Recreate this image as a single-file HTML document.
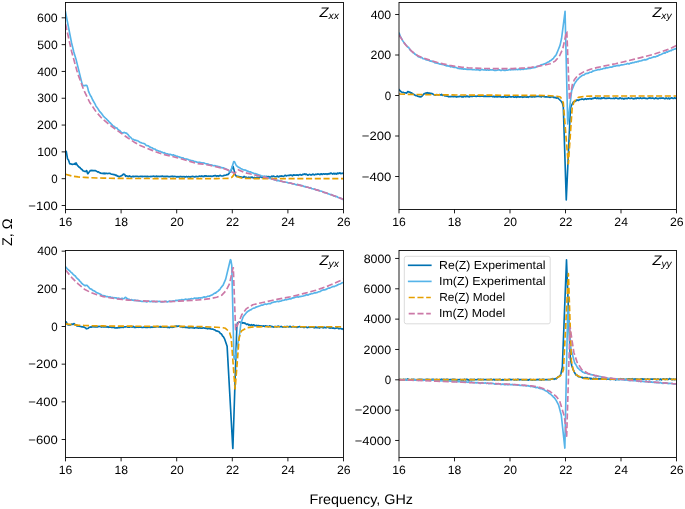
<!DOCTYPE html><html><head><meta charset="utf-8"><title>Z plots</title><style>html,body{margin:0;padding:0;background:#fff;overflow:hidden}svg{display:block;will-change:transform}</style></head><body>
<svg text-rendering="geometricPrecision" width="685" height="509" viewBox="0 0 685 509" font-family="&quot;Liberation Sans&quot;, sans-serif">
<rect width="685" height="509" fill="#fff"/>
<clipPath id="c1"><rect x="65.5" y="2.5" width="278.0" height="207.0"/></clipPath>
<g clip-path="url(#c1)" fill="none" stroke-width="1.65" stroke-linejoin="round">
<path d="M65.5 153.18 L65.92 151.24 L66.27 151.5 L67.49 158.68 L68.12 159.64 L68.47 159.9 L69.5 163.06 L69.85 163.78 L70.2 163.94 L70.9 163.87 L71.25 164.13 L71.6 164.15 L71.95 164.01 L72.3 164.43 L73.35 164.2 L74.05 164.23 L74.4 163.73 L74.75 163.53 L75.45 164.39 L75.98 162.94 L76.33 163.24 L76.99 164.72 L77.69 165.68 L79.09 167.17 L79.44 167.25 L80.14 167.75 L80.49 168.35 L80.84 168.43 L81.19 169 L82.24 169.71 L82.94 170.77 L85.04 171.58 L85.39 171.4 L86.09 171.39 L86.44 170.62 L86.79 170.75 L87.52 173.34 L87.75 173.76 L88.1 173.73 L88.8 172.42 L90.16 170.66 L90.51 170.55 L90.86 170.73 L91.91 170.37 L92.61 170.69 L93.66 170.54 L94.01 170.72 L94.36 170.46 L94.71 170.54 L95.06 170.46 L95.76 170.83 L96.11 170.83 L96.46 171.29 L96.81 171.35 L97.86 172.09 L98.56 171.76 L99.61 172.79 L99.96 172.73 L100.31 172.88 L100.66 173.24 L101.36 173.39 L101.71 173.21 L102.06 173.32 L102.41 173.21 L103.11 173.64 L103.46 173.59 L103.81 173.13 L104.16 172.99 L104.51 173.6 L104.86 173.82 L105.56 173.25 L106.26 173.39 L106.61 173.25 L106.96 173.45 L107.66 173.56 L109.06 173.24 L109.41 173.41 L110.11 173.39 L111.16 174.14 L112.56 174.26 L112.91 174.45 L113.26 174.4 L113.61 174.58 L114.31 174.72 L114.66 174.6 L115.01 174.78 L115.36 175.32 L116.06 175.61 L116.41 175.17 L117.46 176.16 L118.16 176.19 L119.21 176.89 L119.91 176.52 L120.26 176.12 L121.66 175.69 L122.01 175.27 L122.36 175.16 L123.41 174.09 L124.81 174.63 L125.51 176.05 L125.86 176.33 L126.21 175.89 L126.91 175.85 L127.26 176.05 L127.61 176.02 L127.96 176.47 L128.31 176.62 L129.36 175.77 L129.71 176.35 L130.06 176.38 L130.41 176.72 L130.76 176.4 L131.46 176.89 L131.81 176.89 L132.51 176.29 L132.86 176.45 L133.21 176.21 L133.56 176.6 L133.91 176.47 L134.26 176.62 L134.61 176.42 L135.31 176.49 L135.66 176.33 L136.01 176.41 L137.06 176.3 L138.46 176.66 L139.16 176.63 L139.51 176.42 L140.21 176.22 L140.56 176.4 L140.91 176.31 L141.61 176.37 L141.96 176.6 L142.31 176.65 L142.66 176.3 L144.06 176.54 L144.41 176.4 L145.46 176.41 L145.81 176.61 L146.16 176.35 L146.51 176.65 L147.56 176.35 L147.91 176.38 L148.26 176.65 L148.61 176.51 L149.66 176.46 L150.01 176.57 L151.06 176.34 L151.76 176.56 L152.11 176.42 L152.46 176.44 L152.81 176.2 L153.86 176.13 L154.21 176.29 L154.56 176.27 L154.91 176.6 L155.96 176.28 L156.31 176.04 L156.66 176.59 L157.01 176.43 L157.36 176.69 L157.71 176.35 L158.06 176.44 L158.76 176.24 L159.46 176.57 L160.51 176.3 L161.56 176.4 L161.91 176.12 L162.61 176.03 L162.96 176.39 L163.31 176.44 L163.66 176.69 L164.36 176.58 L164.71 176.35 L165.76 176.75 L166.46 176.28 L167.86 176.35 L168.21 176.68 L169.61 176.68 L169.96 176.86 L171.01 176.31 L171.36 176.4 L172.06 176.39 L172.41 176.17 L172.76 176.6 L173.46 176.77 L173.81 176.43 L175.91 176.5 L176.61 176.99 L177.31 177.02 L177.66 176.65 L178.01 176.75 L178.36 176.68 L179.06 177.1 L179.41 176.77 L179.76 176.74 L180.11 176.33 L180.46 176.76 L180.81 176.53 L181.51 176.55 L181.86 176.84 L182.21 176.92 L182.91 176.59 L183.61 176.82 L184.31 176.63 L184.66 176.69 L185.01 177.07 L185.36 176.89 L185.71 176.94 L186.06 176.64 L186.41 176.77 L186.76 176.57 L187.11 176.82 L187.81 176.83 L188.51 176.56 L189.21 176.94 L189.91 176.63 L190.26 176.62 L190.61 177.11 L191.66 176.45 L192.71 176.25 L193.06 176.6 L193.76 176.66 L194.11 176.52 L194.46 176.84 L194.81 176.75 L195.16 176.87 L195.51 176.5 L196.21 176.29 L196.56 176.59 L196.91 176.69 L197.96 176.52 L198.31 176.61 L199.36 176.06 L200.76 176.35 L201.11 176.1 L201.46 176.13 L201.81 175.94 L202.16 176.43 L202.51 176.26 L202.86 176.41 L203.21 176.24 L203.56 176.53 L203.91 176.61 L204.61 175.9 L205.31 175.78 L205.66 176.07 L206.01 175.77 L206.71 176.26 L207.41 176.29 L207.76 176.17 L208.11 176.25 L208.81 176.05 L210.21 176.2 L210.56 176.05 L210.91 176.14 L211.26 176.04 L211.61 176.34 L211.96 176.22 L212.31 176.4 L212.66 176.2 L213.01 176.23 L213.36 175.86 L214.41 175.85 L215.11 175.48 L215.46 175.53 L216.51 176.33 L217.56 175.77 L217.91 175.83 L218.26 176.19 L218.61 176.3 L219.66 175.54 L220.36 175.39 L220.71 175.47 L221.06 175.84 L222.81 175.97 L224.21 175.35 L225.61 175.27 L226.31 175.01 L226.66 174.62 L227.71 174.75 L228.41 174.15 L229.46 172.71 L230.51 171.75 L231.21 170.5 L232.4 166.85 L232.75 166.36 L233.1 166.57 L234.08 170.11 L234.81 174.45 L235.04 174.33 L235.39 175.1 L236.09 176 L236.44 176.13 L236.79 176.47 L237.49 176.21 L237.84 176.49 L238.54 176.58 L238.89 176.36 L239.94 177.11 L240.29 176.86 L240.99 177.01 L241.34 176.97 L242.39 177.52 L243.44 177.12 L244.14 176.44 L245.54 177.27 L246.24 177.2 L246.94 177.83 L247.29 177.91 L247.64 177.65 L247.99 177.63 L248.34 177.35 L248.69 177.48 L249.04 177.33 L249.39 177.66 L250.44 177.35 L251.14 177.48 L251.49 177.38 L251.84 177.09 L252.19 177.05 L253.24 177.95 L254.64 177.42 L255.69 177.93 L256.74 177.39 L257.09 177.73 L257.44 177.74 L258.14 177.25 L258.84 177.87 L259.19 177.93 L260.24 176.81 L260.59 176.6 L261.64 177.45 L262.34 177.48 L263.74 177.09 L264.44 176.45 L264.79 176.57 L265.84 176.47 L266.19 176.69 L266.89 176.44 L267.24 176.54 L267.59 176.92 L267.94 177.01 L268.64 176.48 L268.99 176.49 L269.34 176.98 L269.69 177.14 L271.09 176.81 L271.44 176.3 L271.79 176.2 L272.14 176.55 L272.84 176.59 L273.19 176.04 L274.59 176.6 L275.99 176.78 L276.34 176.66 L277.04 176.03 L277.74 176.18 L278.09 176.7 L278.44 176.89 L278.79 176.9 L279.14 176.43 L279.49 176.39 L279.84 176.13 L280.54 175.98 L281.24 176.09 L281.59 175.88 L282.64 176.28 L283.69 176.32 L284.39 175.86 L284.74 175.41 L285.09 175.26 L285.44 175.37 L286.14 176.01 L286.49 175.98 L286.84 175.64 L287.89 175.55 L288.59 175.34 L288.94 175.55 L289.64 175.41 L289.99 174.9 L290.34 175.22 L291.39 175.04 L292.09 175.69 L292.44 175.81 L293.14 175.13 L293.84 174.91 L295.59 175.19 L295.94 174.99 L296.29 175.14 L296.64 174.85 L296.99 175.05 L297.34 174.77 L297.69 175.12 L298.04 175.06 L298.39 175.43 L298.74 175.07 L299.44 174.84 L299.79 174.54 L300.49 174.46 L301.19 175.22 L301.54 175.01 L301.89 175.01 L302.94 174.23 L303.99 174.51 L304.34 174.05 L304.69 173.82 L305.04 173.83 L305.39 174.39 L305.74 174.6 L306.09 174.54 L306.44 174.14 L306.79 174.52 L307.14 174.48 L307.49 175.07 L307.84 174.99 L308.19 175.18 L309.24 174.38 L309.94 174.47 L310.99 175.05 L311.69 174.9 L312.04 174.51 L312.74 174.17 L313.09 174.13 L314.14 174.94 L314.84 174.67 L315.54 174.2 L316.94 174.34 L317.29 174.02 L317.64 174.15 L317.99 173.96 L318.34 174.13 L318.69 173.98 L319.74 174.69 L321.14 173.8 L322.19 174.49 L322.89 174.07 L323.59 173.89 L324.64 174.07 L326.04 173.82 L326.74 174.04 L327.09 174.4 L327.79 173.81 L328.14 173.68 L328.84 174.1 L329.19 173.73 L329.89 173.39 L330.24 173.55 L330.59 173.21 L330.94 173.43 L331.29 173.14 L332.69 174.07 L333.04 173.73 L333.39 173.62 L333.74 173.27 L334.44 173.61 L334.79 174.07 L335.14 173.72 L335.49 173.68 L335.84 173.43 L336.54 174.09 L336.89 173.97 L337.59 173.02 L338.64 173.59 L339.69 172.8 L340.04 172.94 L340.74 173.63 L341.09 173.32 L341.44 173.33 L341.79 173.56 L342.49 173.41 L342.84 173.06 L343.19 173.28 L343.5 173.27" stroke="#0072B2" stroke-linecap="square"/>
<path d="M65.5 11.97 L71.54 42.72 L73.8 52.05 L76.05 59.38 L82.18 84.13 L82.43 84.94 L83.13 85.61 L83.48 85.76 L83.83 85.64 L84.18 85.78 L84.53 85.5 L84.88 85.64 L85.23 85.34 L85.58 85.52 L86.63 85.37 L86.98 85.63 L87.89 88.61 L88.52 91.33 L90.37 95.47 L91.42 97.06 L92.46 99.48 L95.26 104.38 L95.61 105.33 L96.31 106.64 L96.66 106.9 L97.01 107.53 L97.36 107.88 L99.81 111.68 L101.21 113.05 L103.31 116.07 L106.11 118.74 L106.46 118.91 L107.51 120.33 L108.21 120.74 L109.61 122.52 L109.96 122.78 L110.31 122.87 L111.36 124.21 L112.06 124.76 L112.76 125.71 L113.81 126.15 L114.16 126.57 L114.51 126.62 L114.86 127.14 L115.21 127.24 L115.56 127.66 L116.26 127.97 L116.61 127.88 L116.96 128.06 L117.66 129.08 L119.41 130.53 L119.76 130.65 L121.86 132.96 L122.21 132.77 L123.26 132.88 L123.61 132.51 L124.31 132.44 L125.71 133.11 L126.06 132.97 L126.76 133.3 L127.11 133.82 L128.16 134.74 L129.56 136.67 L130.26 137.18 L130.61 137.29 L132.01 138.95 L133.41 139.27 L134.11 139.94 L134.46 140.12 L134.81 139.99 L135.51 140.07 L135.86 140.32 L136.21 140.32 L136.56 140.56 L136.91 140.55 L137.26 140.78 L138.31 141.03 L140.06 142.4 L141.11 142.59 L141.81 143.05 L143.91 143.48 L144.96 143.97 L146.01 145.21 L146.71 145.56 L147.06 145.48 L147.41 145.72 L148.46 145.72 L149.51 146.93 L149.86 147.09 L150.21 147.02 L151.26 147.77 L151.96 147.74 L153.01 148.63 L154.06 149.05 L155.11 149.1 L155.81 149.94 L156.51 150.22 L156.86 150.19 L157.56 150.55 L157.91 150.54 L158.26 150.89 L158.61 150.94 L159.66 151.42 L160.36 151.35 L161.41 152.08 L161.76 152.01 L163.16 152.82 L163.86 152.84 L164.21 152.59 L165.26 153.4 L165.61 153.43 L166.31 153.82 L167.71 153.88 L168.41 154.19 L168.76 154.5 L169.81 154.29 L170.51 154.4 L170.86 154.61 L171.91 155 L172.61 155.16 L172.96 154.93 L173.66 154.92 L174.36 155.56 L175.41 155.66 L175.76 156.04 L176.46 156.28 L176.81 156.16 L177.51 156.26 L177.86 156.53 L178.91 156.71 L179.61 157.33 L179.96 157.41 L180.31 157.3 L181.01 157.61 L181.36 157.93 L182.76 157.78 L183.11 157.86 L183.81 158.43 L185.21 158.89 L186.26 159.05 L186.61 158.92 L188.36 159.56 L188.71 159.87 L190.11 160.05 L190.46 160.31 L191.51 160.49 L192.21 160.69 L192.91 160.7 L193.96 161.19 L194.31 161.58 L194.66 161.58 L195.01 161.76 L195.36 161.52 L196.41 161.88 L196.76 162.13 L197.81 162.26 L198.16 162.16 L198.51 162.61 L199.21 162.58 L199.56 162.19 L201.66 162.69 L202.01 163.02 L202.71 163 L203.06 162.82 L204.11 162.96 L205.16 163.53 L206.56 163.89 L206.91 163.87 L207.96 164.26 L208.31 164.17 L209.01 164.5 L209.36 165.01 L209.71 164.88 L210.06 165.04 L210.41 164.78 L212.16 165.14 L213.56 165.79 L214.96 165.67 L215.31 165.74 L216.01 166.13 L217.76 166.43 L218.11 166.65 L219.16 166.64 L219.86 167.06 L220.21 167.08 L221.26 167.69 L223.01 167.91 L223.36 167.85 L224.41 168.39 L224.76 168.31 L225.81 169.21 L226.51 169.1 L228.61 170.5 L229.66 171.87 L230.01 171.86 L231.3 169.48 L233.51 162.21 L233.86 161.48 L234.21 161.48 L234.56 161.9 L236.28 165.52 L237.33 166.31 L237.68 166.77 L240.13 167.92 L240.48 168.38 L241.88 169.02 L242.23 169.36 L243.28 169.71 L243.98 170.04 L244.33 170.06 L244.68 169.87 L245.38 170.05 L247.48 171.18 L248.18 171.2 L249.23 171.96 L249.58 172.01 L249.93 171.84 L250.63 171.89 L250.98 172.31 L252.38 172.71 L252.73 172.98 L253.08 172.99 L253.43 173.27 L253.78 173.34 L254.13 173.67 L254.83 173.76 L255.18 173.59 L255.88 173.76 L256.58 174.26 L256.93 174.33 L257.28 174.21 L257.63 174.34 L257.98 174.67 L259.03 174.87 L259.73 175.32 L260.08 175.22 L260.78 175.57 L261.13 176.05 L261.83 176.33 L262.53 176.05 L263.23 176.35 L263.58 176.27 L263.93 176.57 L264.63 176.75 L265.33 176.69 L267.08 177.44 L268.13 178.05 L268.83 178.04 L269.88 178.56 L273.73 179.54 L274.08 179.49 L274.78 179.99 L275.13 180.04 L275.48 179.86 L276.53 180.56 L276.88 180.57 L277.23 180.35 L278.98 180.57 L279.33 180.94 L280.73 181.28 L281.43 181.1 L281.78 181.17 L282.13 181.51 L283.53 181.83 L283.88 182.04 L284.23 181.94 L285.28 182.26 L286.68 182.23 L288.43 183.01 L289.48 182.72 L290.53 182.95 L290.88 183.25 L291.23 183.22 L292.28 183.87 L294.38 183.92 L296.13 184.87 L296.83 184.67 L297.18 184.43 L297.53 184.68 L297.88 184.62 L299.63 185.12 L299.98 185.04 L301.03 185.59 L302.08 185.61 L302.78 185.74 L303.13 186.02 L303.48 186.03 L304.18 186.65 L304.53 186.74 L305.23 186.54 L306.28 187.26 L307.33 187.19 L308.03 187.27 L309.78 188.13 L310.48 187.69 L310.83 187.76 L311.53 188.57 L312.58 188.73 L313.63 189.09 L314.33 189.01 L315.03 189.27 L315.38 189.57 L315.73 189.62 L316.08 189.95 L316.78 190.15 L317.48 189.89 L317.83 189.88 L318.18 190.3 L319.23 190.49 L319.58 190.84 L320.98 190.98 L321.33 191.27 L322.73 191.54 L323.78 192.39 L324.48 192.58 L324.83 192.49 L325.53 192.82 L325.88 192.8 L326.23 192.99 L326.58 192.95 L326.93 193.27 L330.78 194.71 L331.13 194.62 L331.48 194.72 L331.83 194.64 L332.18 194.97 L332.53 195.01 L333.23 195.81 L333.93 196.12 L334.28 195.99 L334.63 196.1 L334.98 196.01 L336.03 196.73 L336.73 196.55 L337.08 196.62 L338.13 197.49 L339.88 197.77 L340.58 198.15 L340.93 198.57 L341.63 198.55 L342.68 199.34 L343.03 199.3 L343.38 199.42 L343.5 199.33" stroke="#56B4E9" stroke-linecap="square"/>
<path d="M65.5 174.3 L71.8 176.02 L78.1 176.94 L84.4 177.37 L90.7 177.7 L97 177.96 L103.3 178.11 L109.6 178.24 L115.9 178.36 L122.2 178.41 L128.5 178.45 L134.8 178.48 L141.1 178.51 L147.4 178.54 L153.7 178.56 L160 178.58 L166.3 178.59 L172.6 178.6 L178.9 178.6 L185.2 178.6 L191.5 178.6 L197.8 178.59 L204.1 178.58 L210.4 178.57 L216.7 178.55 L223 178.53 L229.3 178.33 L231.75 177.35 L233.15 175.86 L234.2 174.02 L234.55 173.71 L234.9 174 L236.29 176.49 L242.59 178.37 L248.89 178.52 L255.19 178.59 L261.49 178.6 L267.79 178.6 L274.09 178.6 L280.39 178.6 L286.69 178.6 L292.99 178.6 L299.29 178.6 L305.59 178.6 L311.89 178.6 L318.19 178.6 L324.49 178.6 L330.79 178.6 L337.09 178.6 L343.39 178.6 L343.5 178.6" stroke="#E69F00" stroke-dasharray="6.1 2.64" stroke-linecap="butt"/>
<path d="M65.5 24 L71.54 51.22 L77.67 73.52 L83.79 90.21 L89.8 102.51 L96.1 111.8 L102.4 118.88 L108.7 124.15 L115 128.95 L121.3 133.34 L127.6 137.78 L133.9 141.92 L140.2 145.49 L146.5 148.08 L152.8 150.63 L159.1 152.97 L165.4 154.84 L171.7 156.39 L178 157.99 L184.3 159.74 L190.6 161.64 L196.9 163.48 L203.2 164.18 L209.5 165.29 L215.8 166.69 L222.1 168.18 L228.4 170.16 L234.35 173.31 L235.05 173.34 L237.1 169.97 L237.45 169.67 L238.15 169.67 L244.45 172.6 L250.75 174.04 L257.05 175.56 L263.35 176.91 L269.65 178.47 L275.95 180.04 L282.25 181.44 L288.55 182.81 L294.85 184.17 L301.15 185.63 L307.45 187.22 L313.75 189 L320.05 190.97 L326.35 193.05 L332.65 195.26 L338.95 197.61 L343.5 199.4" stroke="#CC79A7" stroke-dasharray="6.1 2.64" stroke-linecap="butt"/>
</g>
<rect x="65.5" y="2.5" width="278.0" height="207.0" fill="none" stroke="#000" stroke-width="0.88" stroke-linejoin="miter"/>
<path d="M65.5 209.5 V213.35 M121.1 209.5 V213.35 M176.7 209.5 V213.35 M232.3 209.5 V213.35 M287.9 209.5 V213.35 M343.5 209.5 V213.35 M65.5 17.82 H61.65 M65.5 44.63 H61.65 M65.5 71.44 H61.65 M65.5 98.26 H61.65 M65.5 125.07 H61.65 M65.5 151.89 H61.65 M65.5 178.7 H61.65 M65.5 205.51 H61.65" stroke="#000" stroke-width="0.88" fill="none"/>
<text transform="translate(58.81 225.5) scale(1.0476 1.040)" font-size="11.64" fill="#000">16</text>
<text transform="translate(114.44 225.5) scale(1.0433 1.040)" font-size="11.64" fill="#000">18</text>
<text transform="translate(170.15 225.5) scale(1.0462 1.040)" font-size="11.64" fill="#000">20</text>
<text transform="translate(225.93 225.5) scale(1.0254 1.040)" font-size="11.64" fill="#000">22</text>
<text transform="translate(281.27 225.5) scale(1.0456 1.040)" font-size="11.64" fill="#000">24</text>
<text transform="translate(336.92 225.5) scale(1.0549 1.040)" font-size="11.64" fill="#000">26</text>
<text transform="translate(37.06 22) scale(1.0627 1.040)" font-size="11.64" fill="#000">600</text>
<text transform="translate(37.33 48.81) scale(1.0486 1.040)" font-size="11.64" fill="#000">500</text>
<text transform="translate(37.24 75.62) scale(1.0535 1.040)" font-size="11.64" fill="#000">400</text>
<text transform="translate(37.33 102.44) scale(1.0486 1.040)" font-size="11.64" fill="#000">300</text>
<text transform="translate(37.11 129.25) scale(1.0599 1.040)" font-size="11.64" fill="#000">200</text>
<text transform="translate(37.2 156.07) scale(1.0554 1.040)" font-size="11.64" fill="#000">100</text>
<text transform="translate(51.25 182.88) scale(0.9910 1.040)" font-size="11.64" fill="#000">0</text>
<text transform="translate(28.28 209.69) scale(1.1230 1.040)" font-size="11.64" fill="#000">−100</text>
<text transform="translate(319.47 16.6) scale(1.0601 1.000)" font-size="13.97" font-style="italic" fill="#000">Z</text>
<text transform="translate(328.38 18.5) scale(1.0769 1.000)" font-size="9.78" font-style="italic" fill="#000">xx</text>
<clipPath id="c2"><rect x="399.0" y="2.5" width="277.5" height="207.0"/></clipPath>
<g clip-path="url(#c2)" fill="none" stroke-width="1.65" stroke-linejoin="round">
<path d="M399 89.68 L399.35 90.16 L399.7 90.32 L400.75 91.48 L401.8 92.19 L402.5 92.43 L403.55 92.4 L404.6 92.89 L405.3 92.75 L406.7 93.17 L407.75 91.56 L408.45 91.86 L408.8 91.82 L409.15 92.19 L409.5 92.07 L410.2 92.29 L410.9 93.14 L411.6 92.83 L412.65 93.58 L414.75 94.97 L416.15 95.79 L416.5 95.71 L417.2 95.81 L417.55 96.18 L417.9 96.05 L418.25 96.41 L419.65 96.64 L420 96.97 L421.4 96.63 L422.1 96.05 L423.15 94.71 L423.5 94.49 L424.2 93.62 L424.55 93.59 L424.9 93.77 L425.95 93.01 L426.3 92.94 L426.65 93.23 L427 93.23 L427.7 92.69 L428.05 92.76 L428.4 93.09 L428.75 93.16 L429.45 92.97 L430.85 93.42 L431.2 93.4 L431.55 93.7 L431.9 93.57 L432.25 93.78 L432.6 93.82 L433.3 94.36 L433.65 94.39 L434 94.83 L434.35 94.81 L435.4 95.14 L436.1 94.5 L437.15 94.94 L437.5 94.7 L437.85 94.69 L438.2 94.92 L438.9 94.93 L439.25 94.7 L439.6 94.77 L439.95 94.61 L440.65 94.98 L441 94.93 L441.35 94.5 L441.7 94.41 L442.05 95.09 L442.4 95.39 L443.1 95 L443.8 95.35 L444.15 95.32 L444.5 95.64 L445.2 95.97 L446.6 96 L446.95 96.2 L447.65 96.19 L448.7 96.8 L450.1 96.57 L450.45 96.67 L450.8 96.53 L451.15 96.59 L451.85 96.48 L452.2 96.22 L452.55 96.25 L452.9 96.65 L453.6 96.69 L453.95 96.13 L454.65 96.41 L455 96.7 L455.7 96.5 L456.75 97.1 L457.45 96.84 L457.8 96.52 L459.2 96.64 L459.55 96.37 L459.9 96.49 L460.25 96.38 L460.95 96.42 L461.65 96.95 L462 96.87 L462.35 96.53 L462.7 96.88 L463.4 96.95 L463.75 96.39 L464.45 96.2 L464.8 96.34 L465.15 96.25 L465.5 96.66 L465.85 96.77 L466.9 95.85 L467.25 96.42 L467.6 96.43 L467.95 96.75 L468.3 96.41 L469 96.87 L469.35 96.86 L470.05 96.22 L470.4 96.37 L470.75 96.12 L471.1 96.5 L471.45 96.35 L471.8 96.48 L472.15 96.27 L472.85 96.32 L473.2 96.15 L473.55 96.22 L474.6 96.07 L476 96.4 L476.7 96.36 L477.05 96.15 L477.75 95.94 L478.1 96.12 L478.45 96.02 L479.15 96.07 L479.5 96.3 L479.85 96.35 L480.2 96 L481.6 96.25 L481.95 96.11 L483 96.14 L483.35 96.35 L483.7 96.1 L484.05 96.41 L485.1 96.14 L485.45 96.18 L485.8 96.47 L486.15 96.34 L487.2 96.34 L487.55 96.46 L488.6 96.28 L489.3 96.53 L489.65 96.41 L490 96.44 L490.35 96.23 L491.4 96.21 L491.75 96.38 L492.1 96.38 L492.45 96.73 L493.5 96.45 L493.85 96.23 L494.2 96.8 L494.55 96.66 L494.9 96.93 L495.25 96.6 L495.6 96.71 L496.3 96.54 L497 96.89 L498.05 96.66 L499.1 96.78 L499.45 96.51 L500.15 96.43 L500.5 96.79 L500.85 96.85 L501.2 97.11 L501.9 97 L502.25 96.77 L503.3 97.17 L504 96.7 L505.4 96.75 L505.75 97.07 L507.15 97.05 L507.5 97.22 L508.55 96.65 L508.9 96.73 L509.6 96.7 L509.95 96.47 L510.3 96.89 L511 97.05 L511.35 96.71 L513.45 96.73 L514.15 97.21 L514.85 97.23 L515.2 96.86 L515.55 96.95 L515.9 96.88 L516.6 97.3 L516.95 96.96 L517.3 96.93 L517.65 96.53 L518 96.96 L518.35 96.72 L519.05 96.76 L519.4 97.05 L519.75 97.13 L520.45 96.81 L521.15 97.04 L521.85 96.86 L522.2 96.92 L522.55 97.3 L522.9 97.11 L523.25 97.17 L523.6 96.87 L523.95 97 L524.3 96.79 L524.65 97.04 L525.35 97.05 L526.05 96.78 L526.75 97.16 L527.45 96.84 L527.8 96.83 L528.15 97.32 L529.2 96.65 L530.25 96.44 L530.6 96.78 L531.3 96.84 L531.65 96.69 L532 97 L532.35 96.91 L532.7 97.03 L533.05 96.65 L533.75 96.44 L534.1 96.73 L534.45 96.84 L535.5 96.67 L535.85 96.76 L536.9 96.21 L538.3 96.53 L538.65 96.28 L539 96.33 L539.35 96.14 L539.7 96.64 L540.05 96.49 L540.4 96.64 L540.75 96.49 L541.1 96.79 L541.45 96.89 L542.15 96.22 L542.85 96.16 L543.2 96.47 L543.55 96.19 L544.25 96.75 L544.95 96.84 L545.3 96.75 L545.65 96.85 L546.35 96.72 L547.75 97.01 L548.1 96.89 L548.45 97.01 L548.8 96.94 L549.15 97.28 L549.5 97.18 L549.85 97.4 L550.2 97.22 L550.55 97.29 L550.9 96.94 L551.95 97.02 L552.65 96.71 L553 96.79 L554.05 97.71 L555.1 97.31 L555.45 97.44 L555.8 97.9 L556.15 98.12 L557.2 97.77 L557.9 97.94 L558.25 98.2 L558.6 98.77 L561.4 101.5 L562.45 103.28 L563.31 107.04 L566.27 199.95 L570.4 109.21 L570.51 108.55 L570.92 107.29 L571.09 106.23 L571.48 105.26 L571.71 105.22 L571.98 104.51 L572.31 104.06 L573.36 101.9 L574.06 101.45 L575.11 101.48 L575.81 101.05 L576.16 100.54 L576.86 99.99 L577.21 99.87 L578.26 100.48 L579.66 99.53 L581.06 99.53 L581.41 99.18 L581.76 99.28 L582.11 99.06 L582.46 99.21 L582.81 99.03 L583.51 99.37 L583.86 99.67 L585.26 98.71 L586.31 99.35 L587.01 98.9 L587.71 98.71 L588.76 98.85 L590.16 98.56 L590.86 98.76 L591.21 99.11 L591.91 98.5 L592.26 98.36 L592.96 98.76 L593.31 98.38 L594.01 98.03 L594.36 98.18 L594.71 97.83 L595.06 98.04 L595.41 97.75 L596.81 98.66 L597.16 98.32 L597.51 98.22 L597.86 97.86 L598.56 98.22 L598.91 98.68 L599.26 98.34 L599.61 98.32 L599.96 98.08 L600.66 98.78 L601.01 98.67 L601.71 97.75 L602.76 98.37 L603.81 97.63 L604.16 97.77 L604.86 98.5 L605.21 98.21 L605.56 98.24 L605.91 98.48 L606.61 98.36 L606.96 98.03 L607.31 98.27 L608.01 98.31 L608.36 98.12 L609.06 98.05 L609.76 98.15 L610.11 98.34 L612.91 98.46 L613.61 98.14 L614.31 98.36 L614.66 98.63 L615.71 97.95 L616.06 98.15 L616.76 98.09 L617.11 98.32 L617.46 98.29 L617.81 98.59 L618.16 98.48 L618.86 98.76 L619.56 98.25 L619.91 97.75 L620.61 98 L621.31 98.72 L622.36 98.29 L623.06 98.73 L623.41 98.66 L623.76 99.04 L624.11 98.8 L624.46 98.8 L624.81 98.32 L625.51 98.57 L625.86 98.38 L626.21 98.49 L626.56 98.42 L626.91 98.75 L627.26 98.74 L628.31 97.8 L629.36 98.38 L629.71 98.22 L630.41 98.44 L631.46 98.1 L631.81 98.28 L632.16 98.28 L633.21 98.88 L633.56 98.5 L633.91 98.64 L634.61 98.6 L634.96 98.21 L635.31 98.08 L635.66 98.49 L636.36 98.65 L636.71 98.01 L637.06 98.09 L637.41 97.92 L637.76 98.08 L638.46 98.09 L638.81 98.38 L639.16 98.46 L639.86 98.17 L640.21 97.77 L640.91 98.19 L641.26 98.22 L641.61 98.5 L641.96 98.31 L642.31 98.34 L642.66 98.05 L643.01 98.22 L643.71 98.21 L644.06 97.88 L644.41 98.27 L645.46 98.41 L645.81 98.19 L646.86 98.49 L647.21 98.75 L648.26 98.18 L649.31 98.12 L650.01 97.83 L650.71 98.14 L651.06 98.48 L651.41 98.19 L651.76 98.25 L652.11 98.14 L652.46 98.19 L652.81 98.09 L653.86 98.6 L654.56 98.68 L654.91 98.56 L655.61 97.86 L655.96 97.92 L656.66 98.38 L657.71 98.7 L658.06 98.43 L658.41 98.57 L658.76 98.21 L659.81 98.17 L660.16 98.42 L660.51 98.15 L660.86 98.25 L661.21 97.99 L661.56 98.13 L662.26 98.03 L662.61 98.16 L663.66 98.09 L664.36 98.67 L664.71 98.59 L665.06 98.78 L665.76 98.34 L666.11 97.85 L667.16 98.64 L667.86 98.57 L668.56 97.99 L669.61 98.86 L669.96 98.48 L670.66 98.16 L671.01 98.16 L671.36 97.83 L672.06 97.87 L672.41 98.27 L673.11 98.5 L673.81 98.54 L674.16 98.03 L674.51 97.86 L675.56 98.33 L675.91 98.17 L676.5 98.27" stroke="#0072B2" stroke-linecap="square"/>
<path d="M399 33.17 L399.62 34.25 L400.6 36.92 L402.7 40.56 L404.1 42.83 L405.15 43.98 L406.55 45.75 L407.25 46.4 L407.95 47.24 L408.65 47.41 L409.7 49.33 L411.45 51.16 L412.5 51.9 L412.85 52.49 L413.55 52.89 L413.9 52.93 L414.95 54.16 L415.3 54.13 L416.35 55.05 L417.05 55.49 L418.45 56.82 L418.8 56.91 L419.15 56.79 L420.2 57.41 L421.25 57.78 L421.6 57.78 L421.95 57.6 L422.65 58.25 L423 58.77 L425.1 58.99 L426.15 59.84 L426.85 59.78 L427.9 60.21 L428.6 60.26 L430 61.08 L430.35 61.02 L430.7 61.23 L431.05 61.12 L433.85 61.89 L435.25 62.99 L436.65 63.04 L437 63.28 L437.35 63.1 L437.7 63.34 L438.05 63.14 L438.4 63.42 L440.15 64.19 L440.85 64.04 L441.9 64.51 L443.65 64.56 L444.7 65.27 L445.4 65.37 L445.75 65.28 L446.1 65.66 L446.8 65.88 L447.15 65.67 L448.2 65.88 L448.55 66.09 L448.9 65.99 L449.25 66.18 L449.6 66.14 L449.95 66.55 L450.3 66.54 L450.65 66.82 L451 66.59 L451.35 66.74 L451.7 66.62 L454.15 67.48 L454.85 67.28 L455.55 67.34 L457.65 68.34 L458.35 68.27 L459.75 68.63 L460.8 68.38 L461.15 68.73 L461.85 68.89 L462.55 68.68 L463.6 69.17 L464.3 69.13 L464.65 68.88 L465.35 69.02 L465.7 69.23 L466.4 69.15 L467.1 69.5 L468.15 69.14 L468.5 69.32 L468.85 69.14 L469.2 69.44 L469.55 69.32 L469.9 69.53 L470.6 69.42 L470.95 69.11 L471.3 69.06 L472 69.61 L472.35 69.67 L472.7 69.53 L473.75 69.73 L474.1 69.57 L474.8 69.79 L476.2 69.95 L476.55 69.55 L477.6 69.82 L477.95 69.59 L479.35 70.01 L480.05 70.45 L481.1 69.68 L481.45 69.75 L481.8 69.62 L482.15 69.73 L482.5 69.57 L483.55 70.04 L484.6 69.87 L484.95 69.61 L486.35 70.16 L487.4 69.81 L487.75 69.82 L488.45 70.23 L488.8 70.28 L489.85 69.88 L490.2 70.01 L490.55 69.9 L490.9 70.01 L491.25 69.87 L491.6 69.96 L492.65 69.78 L493.7 70.09 L494.4 70.43 L495.45 70.17 L495.8 70.35 L497.2 70.22 L498.25 69.81 L499.3 69.8 L500 70.17 L500.35 70.52 L500.7 70.43 L501.05 70.51 L501.4 70.25 L501.75 70.31 L502.8 69.76 L503.85 70.42 L504.2 70.38 L504.55 70.14 L505.6 70.32 L506.3 69.9 L507.35 70.19 L508.4 69.99 L509.45 69.45 L510.15 69.93 L510.85 69.85 L511.2 69.65 L511.9 69.69 L512.25 69.52 L512.6 69.71 L512.95 69.62 L513.3 69.72 L514 69.64 L514.7 69.3 L515.75 69.61 L516.1 69.4 L517.15 69.53 L517.5 69.69 L518.2 69.45 L518.55 69.08 L519.25 69.27 L519.6 69.51 L519.95 69.42 L520.65 69.57 L522.05 69.17 L522.75 69.26 L523.1 69.46 L524.15 68.92 L524.85 68.81 L525.2 68.91 L526.25 68.96 L526.95 68.88 L527.3 68.52 L528 68.25 L528.7 68.61 L529.75 68.26 L530.1 68.49 L530.8 68.4 L531.15 68.11 L531.85 67.86 L532.2 67.95 L533.25 67.59 L533.95 67.83 L534.3 67.73 L534.65 67.42 L535.35 67.33 L535.7 67.43 L537.45 66.23 L538.15 66.34 L539.55 65.84 L540.6 65.29 L540.95 64.92 L542.7 64.44 L543.05 64.53 L544.45 63.79 L544.8 63.82 L546.55 62.9 L547.6 62.2 L547.95 62.17 L548.3 61.95 L548.65 62.04 L549.35 61.62 L549.7 61.06 L550.75 60.43 L551.1 60.35 L552.15 59.42 L552.5 58.95 L552.85 59.04 L553.55 58.28 L553.9 57.49 L555.3 55.91 L556.35 54.43 L558.28 49.75 L560.09 45.13 L561.6 38.24 L565.06 11.31 L567.72 124.05 L571.65 90.68 L574.43 83.9 L577.23 79.75 L577.58 79.59 L578.98 78.03 L579.33 77.81 L579.68 77.32 L582.13 75.5 L583.18 75.09 L583.88 75.04 L585.28 73.84 L585.98 73.59 L586.33 73.67 L586.68 73.42 L587.73 73.43 L589.83 72.24 L591.58 72.2 L592.63 71.17 L592.98 71.22 L593.33 70.97 L595.08 70.53 L595.43 70.25 L596.48 70.25 L597.53 69.72 L598.23 69.48 L598.58 69.59 L598.93 69.42 L599.63 69.68 L599.98 69.6 L600.68 69.06 L601.73 69.25 L602.78 68.68 L603.48 68.42 L605.23 68.44 L605.93 67.67 L606.28 67.56 L606.98 68.03 L608.03 67.67 L609.08 67.51 L609.78 67.09 L610.48 67 L610.83 67.12 L611.18 67 L611.53 67.15 L612.23 67 L613.28 66.2 L613.63 66.44 L614.68 66.09 L615.03 66.27 L616.43 65.69 L616.78 65.79 L618.18 65.34 L619.23 65.63 L619.93 65.45 L620.28 65.18 L620.98 65.14 L621.33 64.93 L621.68 64.93 L622.03 64.71 L622.38 64.84 L622.73 64.74 L623.43 64.75 L625.18 64.27 L626.23 64.19 L626.58 63.9 L627.28 63.54 L627.63 63.68 L627.98 63.53 L628.68 63.93 L629.38 63.85 L629.73 63.53 L630.08 63.44 L630.43 63.15 L630.78 63.1 L631.48 63.26 L632.18 62.66 L632.53 62.53 L633.23 62.79 L634.63 62.42 L635.33 61.96 L636.03 61.9 L636.38 62.09 L637.08 61.63 L637.78 61.6 L638.13 61.74 L639.18 61.07 L639.53 61.1 L639.88 60.95 L640.93 60.99 L641.28 60.67 L642.33 60.44 L643.03 60.03 L643.73 60.04 L644.43 59.66 L644.78 59.63 L645.13 59.94 L645.48 59.69 L645.83 59.83 L646.18 59.66 L646.53 59.72 L647.23 59.27 L647.58 59.24 L647.93 58.9 L648.28 58.79 L649.33 58.16 L649.68 58.09 L650.38 58.25 L652.48 57.33 L652.83 57.38 L653.53 56.82 L654.23 56.71 L654.58 56.93 L655.28 56.94 L657.03 56.07 L657.38 56.23 L658.78 55.22 L659.13 55.21 L659.83 54.76 L660.88 54.61 L661.58 54.1 L661.93 54.09 L663.33 53.32 L664.73 52.89 L665.08 53.08 L665.43 53.03 L666.13 52.11 L666.48 51.84 L667.18 52.09 L667.53 52.06 L668.58 51.18 L668.93 51.31 L669.28 51.28 L669.63 51.02 L669.98 50.95 L670.33 50.51 L670.68 50.48 L671.03 50.27 L671.38 50.53 L672.43 49.68 L672.78 49.55 L673.13 49.74 L674.18 49.14 L674.88 49.14 L675.23 48.74 L675.58 48.77 L675.93 48.48 L676.28 48.57 L676.5 48.32" stroke="#56B4E9" stroke-linecap="square"/>
<path d="M399 94 L405.3 94.24 L411.6 94.42 L417.9 94.55 L424.2 94.67 L430.5 94.76 L436.8 94.82 L443.1 94.88 L449.4 94.92 L455.7 94.96 L462 95 L468.3 95.04 L474.6 95.07 L480.9 95.11 L487.2 95.14 L493.5 95.17 L499.8 95.2 L506.1 95.23 L512.4 95.26 L518.7 95.29 L525 95.32 L531.3 95.34 L537.6 95.38 L543.9 95.47 L550.2 95.71 L556.5 96.33 L560 96.8 L560.7 97.31 L563.27 102.66 L568.25 163.87 L568.39 163.63 L572.13 108.33 L573.85 102.31 L576.23 98.86 L578.33 97.39 L584.63 96.32 L590.93 96.11 L597.23 96.01 L603.53 96 L609.83 96 L616.13 96 L622.43 96 L628.73 96 L635.03 96 L641.33 96 L647.63 96 L653.93 96 L660.23 96 L666.53 96 L672.83 96 L676.5 96" stroke="#E69F00" stroke-dasharray="6.1 2.64" stroke-linecap="butt"/>
<path d="M399 35 L405.3 44.49 L411.6 51.22 L417.9 55.8 L424.2 58.25 L430.5 60.38 L436.8 62.26 L443.1 63.88 L449.4 65.28 L455.7 66.41 L462 67.21 L468.3 67.77 L474.6 68.13 L480.9 68.38 L487.2 68.55 L493.5 68.68 L499.8 68.67 L506.1 68.6 L512.4 68.6 L518.7 68.26 L525 67.85 L531.3 67.26 L537.6 66.39 L543.9 65.27 L550.2 63.74 L555.1 61.12 L559.3 56.47 L562.73 49.02 L566.57 31.47 L566.84 31.7 L569.48 99.98 L572.39 84.5 L574.31 79.79 L577.81 75.27 L584.11 71.65 L590.41 69.22 L596.71 67.65 L603.01 66.25 L609.31 64.94 L615.61 63.75 L621.91 62.23 L628.21 60.66 L634.51 59.12 L640.81 57.6 L647.11 55.98 L653.41 54.26 L659.71 52.32 L666.01 50.14 L672.31 47.6 L676.5 45.6" stroke="#CC79A7" stroke-dasharray="6.1 2.64" stroke-linecap="butt"/>
</g>
<rect x="399.0" y="2.5" width="277.5" height="207.0" fill="none" stroke="#000" stroke-width="0.88" stroke-linejoin="miter"/>
<path d="M399 209.5 V213.35 M454.5 209.5 V213.35 M510 209.5 V213.35 M565.5 209.5 V213.35 M621 209.5 V213.35 M676.5 209.5 V213.35 M399 14.5 H395.15 M399 55 H395.15 M399 95.5 H395.15 M399 136 H395.15 M399 176.5 H395.15" stroke="#000" stroke-width="0.88" fill="none"/>
<text transform="translate(392.31 225.5) scale(1.0476 1.040)" font-size="11.64" fill="#000">16</text>
<text transform="translate(447.84 225.5) scale(1.0433 1.040)" font-size="11.64" fill="#000">18</text>
<text transform="translate(503.45 225.5) scale(1.0462 1.040)" font-size="11.64" fill="#000">20</text>
<text transform="translate(559.13 225.5) scale(1.0254 1.040)" font-size="11.64" fill="#000">22</text>
<text transform="translate(614.37 225.5) scale(1.0456 1.040)" font-size="11.64" fill="#000">24</text>
<text transform="translate(669.92 225.5) scale(1.0549 1.040)" font-size="11.64" fill="#000">26</text>
<text transform="translate(370.74 18.68) scale(1.0535 1.040)" font-size="11.64" fill="#000">400</text>
<text transform="translate(370.61 59.18) scale(1.0599 1.040)" font-size="11.64" fill="#000">200</text>
<text transform="translate(384.75 99.68) scale(0.9910 1.040)" font-size="11.64" fill="#000">0</text>
<text transform="translate(361.78 140.18) scale(1.1230 1.040)" font-size="11.64" fill="#000">−200</text>
<text transform="translate(361.78 180.68) scale(1.1230 1.040)" font-size="11.64" fill="#000">−400</text>
<text transform="translate(652.47 16.6) scale(1.0601 1.000)" font-size="13.97" font-style="italic" fill="#000">Z</text>
<text transform="translate(661.37 18.5) scale(1.0516 1.000)" font-size="9.78" font-style="italic" fill="#000">xy</text>
<clipPath id="c3"><rect x="65.5" y="250.5" width="278.0" height="207.0"/></clipPath>
<g clip-path="url(#c3)" fill="none" stroke-width="1.65" stroke-linejoin="round">
<path d="M65.5 321.68 L66.2 321.89 L66.55 322.4 L67.12 324.02 L67.4 324.5 L68.1 324.9 L68.8 325.02 L69.85 324.79 L70.2 324.97 L70.9 324.71 L71.6 324.08 L72.3 324.13 L73 324.54 L73.7 323.77 L74.05 323.64 L74.75 324.4 L75.1 324.52 L75.45 325.01 L76.15 325.07 L76.5 325.28 L77.2 326.13 L77.9 325.74 L78.95 326.13 L80.7 326.46 L81.05 326.64 L82.45 327.03 L82.8 326.86 L83.5 326.81 L83.85 327.13 L84.2 326.97 L84.55 327.39 L85.95 328.25 L86.3 328.7 L86.65 328.81 L88.4 328.15 L89.45 327.21 L89.8 327.22 L90.5 326.91 L90.85 326.97 L91.2 327.2 L92.25 326.57 L92.6 326.54 L92.95 326.86 L93.3 326.89 L94 326.39 L94.35 326.48 L94.7 326.82 L95.05 326.89 L95.75 326.71 L96.45 326.99 L97.5 326.7 L97.85 326.81 L98.2 326.49 L98.55 326.5 L98.9 326.35 L99.6 326.54 L99.95 326.44 L100.3 326.78 L100.65 326.72 L101.7 327.06 L102.4 326.44 L103.45 326.93 L103.8 326.7 L104.15 326.71 L104.5 326.96 L105.2 327.01 L105.55 326.8 L105.9 326.89 L106.25 326.75 L106.95 327.16 L107.3 327.11 L107.65 326.67 L108 326.56 L108.35 327.19 L108.7 327.43 L109.4 326.91 L110.1 327.09 L110.45 326.98 L110.8 327.22 L111.5 327.41 L112.9 327.21 L113.25 327.39 L113.95 327.34 L115 327.99 L116.4 327.86 L116.75 327.97 L117.1 327.83 L117.45 327.88 L118.15 327.72 L118.5 327.42 L118.85 327.4 L119.2 327.75 L119.9 327.68 L120.25 327.05 L120.95 327.21 L121.3 327.43 L122 327.11 L123.05 327.57 L123.75 327.25 L124.1 326.92 L125.5 327 L125.85 326.72 L126.2 326.84 L126.55 326.72 L127.25 326.76 L127.95 327.28 L128.3 327.21 L128.65 326.86 L129 327.22 L129.7 327.29 L130.05 326.74 L130.75 326.57 L131.1 326.71 L131.45 326.64 L131.8 327.06 L132.15 327.19 L133.2 326.33 L133.55 326.92 L133.9 326.95 L134.25 327.29 L134.6 326.98 L135.3 327.49 L135.65 327.51 L136.35 326.93 L136.7 327.1 L137.05 326.88 L137.4 327.28 L137.75 327.16 L138.1 327.33 L138.45 327.14 L139.15 327.24 L139.5 327.1 L139.85 327.2 L140.9 327.12 L142.3 327.53 L143 327.51 L143.35 327.31 L144.05 327.12 L144.4 327.31 L144.75 327.22 L145.45 327.27 L145.8 327.5 L146.15 327.54 L146.5 327.18 L147.9 327.38 L148.25 327.23 L149.3 327.2 L149.65 327.38 L150 327.11 L150.35 327.39 L151.4 327.04 L151.75 327.05 L152.1 327.31 L152.45 327.15 L153.5 327.06 L153.85 327.15 L154.9 326.87 L155.6 327.07 L155.95 326.91 L156.3 326.92 L156.65 326.68 L157.7 326.59 L158.05 326.73 L158.4 326.71 L158.75 327.04 L159.8 326.72 L160.15 326.49 L160.5 327.05 L160.85 326.9 L161.2 327.17 L161.55 326.84 L161.9 326.95 L162.6 326.79 L163.3 327.16 L164.35 326.96 L165.4 327.12 L165.75 326.86 L166.45 326.81 L166.8 327.19 L167.15 327.26 L167.5 327.53 L168.2 327.44 L168.55 327.22 L169.6 327.62 L170.3 327.14 L171.7 327.06 L172.05 327.33 L173.45 327.05 L173.8 327.15 L174.85 326.37 L175.2 326.39 L175.9 326.24 L176.25 325.96 L176.6 326.33 L176.95 326.29 L177.3 326.42 L177.65 326.06 L179.4 326.08 L179.75 326.21 L180.45 326.81 L181.15 326.97 L181.5 326.67 L181.85 326.84 L182.2 326.84 L182.9 327.41 L183.25 327.14 L183.6 327.17 L183.95 326.82 L184.3 327.3 L184.65 327.1 L185.35 327.18 L185.7 327.49 L186.05 327.59 L186.75 327.3 L187.45 327.57 L188.15 327.42 L188.5 327.5 L188.85 327.89 L189.2 327.73 L189.55 327.8 L189.9 327.52 L190.25 327.66 L190.6 327.48 L190.95 327.75 L191.65 327.79 L192.35 327.55 L193.05 327.97 L193.75 327.69 L194.1 327.7 L194.45 328.21 L195.5 327.61 L196.55 327.46 L196.9 327.83 L197.6 327.93 L197.95 327.81 L198.3 328.15 L198.65 328.08 L199 328.23 L199.35 327.88 L200.05 327.72 L200.4 328.05 L200.75 328.18 L201.8 328.1 L202.15 328.22 L203.2 327.76 L204.6 328.19 L204.95 327.97 L205.3 328.05 L205.65 327.89 L206 328.43 L206.35 328.3 L206.7 328.49 L207.05 328.36 L207.4 328.69 L207.75 328.82 L208.45 328.21 L209.15 328.2 L209.5 328.53 L209.85 328.28 L210.55 328.89 L211.25 329.04 L211.6 328.98 L211.95 329.13 L212.65 329.09 L214.05 329.72 L214.4 329.72 L215.1 330.04 L215.45 330.52 L215.8 330.57 L216.15 330.94 L216.5 330.92 L216.85 331.15 L217.2 330.98 L218.25 331.56 L218.6 331.5 L219.3 331.88 L220.35 333.46 L221.05 333.67 L221.4 333.91 L221.75 334.41 L222.45 335.91 L223.5 336.9 L224.55 338.79 L227.11 346.16 L232.77 448.01 L232.88 448.51 L236.82 326.66 L237.43 323.18 L238.1 322.51 L238.8 322.2 L239.85 322.1 L240.55 322.41 L240.9 322.83 L241.6 322.36 L241.95 322.35 L242.65 323.08 L243 322.88 L243.7 322.89 L244.05 323.18 L244.4 322.97 L244.75 323.31 L245.1 323.14 L246.5 324.51 L246.85 324.27 L247.2 324.26 L247.55 324 L248.25 324.52 L248.6 325.06 L248.95 324.8 L249.3 324.84 L249.65 324.67 L250.35 325.48 L250.7 325.42 L251.4 324.6 L252.45 325.35 L253.5 324.73 L253.85 324.92 L254.55 325.71 L254.9 325.45 L255.25 325.51 L255.6 325.78 L256.3 325.72 L256.65 325.41 L257 325.67 L257.7 325.77 L258.05 325.6 L258.75 325.57 L259.45 325.72 L259.8 325.93 L262.6 326.19 L263.3 325.89 L264 326.15 L264.35 326.43 L265.4 325.8 L265.75 326.01 L266.45 325.97 L266.8 326.22 L267.15 326.2 L267.5 326.51 L267.85 326.42 L268.55 326.72 L269.25 326.23 L269.6 325.75 L270.3 326.03 L271 326.77 L272.05 326.37 L272.75 326.83 L273.1 326.77 L273.45 327.16 L273.8 326.93 L274.15 326.94 L274.5 326.47 L275.2 326.74 L275.55 326.57 L275.9 326.68 L276.25 326.62 L276.6 326.96 L276.95 326.95 L278 326.05 L279.05 326.65 L279.4 326.5 L280.1 326.75 L281.15 326.43 L281.5 326.62 L281.85 326.63 L282.9 327.25 L283.25 326.88 L283.6 327.03 L284.3 327 L284.65 326.62 L285 326.5 L285.35 326.91 L286.05 327.09 L286.4 326.46 L286.75 326.54 L287.1 326.38 L287.45 326.54 L288.15 326.57 L288.5 326.87 L288.85 326.95 L289.55 326.68 L289.9 326.28 L290.6 326.71 L290.95 326.75 L291.3 327.04 L291.65 326.86 L292 326.89 L292.35 326.61 L292.7 326.78 L293.4 326.79 L293.75 326.47 L294.1 326.86 L295.15 327.02 L295.5 326.81 L296.55 327.14 L296.9 327.4 L297.95 326.85 L299 326.81 L299.7 326.54 L300.4 326.87 L300.75 327.22 L301.1 326.94 L301.45 327.01 L301.8 326.9 L302.15 326.97 L302.5 326.87 L303.55 327.41 L304.25 327.5 L304.6 327.39 L305.3 326.71 L305.65 326.78 L306.35 327.25 L307.4 327.6 L307.75 327.35 L308.1 327.49 L308.45 327.14 L309.5 327.13 L309.85 327.38 L310.2 327.13 L310.55 327.24 L310.9 326.99 L311.25 327.14 L311.95 327.05 L312.3 327.2 L313.35 327.15 L314.05 327.75 L314.4 327.67 L314.75 327.88 L315.45 327.45 L315.8 326.97 L316.85 327.78 L317.55 327.73 L318.25 327.16 L319.3 328.05 L319.65 327.68 L320.35 327.38 L320.7 327.39 L321.05 327.06 L321.75 327.11 L322.1 327.52 L322.8 327.76 L323.5 327.82 L323.85 327.32 L324.2 327.16 L325.25 327.65 L325.6 327.51 L326.3 327.73 L327.35 326.98 L327.7 326.95 L328.75 327.72 L329.1 327.58 L329.45 328.02 L329.8 327.97 L330.15 328.14 L330.5 327.84 L331.55 327.72 L332.6 328.29 L333.3 327.9 L334.35 328.38 L334.7 328.23 L335.05 328.51 L336.1 327.88 L336.45 328.08 L336.8 327.83 L337.15 327.92 L337.5 327.57 L337.85 328.02 L338.2 328.16 L338.55 328.72 L338.9 328.54 L339.25 328.65 L339.6 328.48 L339.95 328.52 L340.3 328.28 L340.65 328.33 L341.35 328.91 L342.05 328.71 L342.4 328.78 L343.1 329.38 L343.5 329.05" stroke="#0072B2" stroke-linecap="square"/>
<path d="M65.5 266.97 L65.85 267.26 L66.2 267.34 L67.25 268.94 L69.35 270.7 L69.7 270.86 L70.75 272.06 L71.8 272.79 L73.2 274.32 L73.9 274.92 L74.6 275.72 L75.3 275.84 L76.35 277.64 L79.15 280.23 L79.5 280.89 L80.2 281.5 L80.55 281.66 L81.6 283.25 L81.95 283.32 L83 284.38 L85.1 285.72 L85.45 285.64 L85.8 285.31 L86.85 285.33 L87.2 285.47 L88.25 286.83 L88.6 286.89 L89.65 288.51 L91.75 289.37 L92.8 290.46 L93.5 290.56 L95.25 291.51 L96.65 292.69 L97 292.7 L97.35 293 L97.7 292.96 L100.5 294.2 L101.9 295.47 L103.3 295.62 L103.65 295.86 L104 295.68 L104.35 295.92 L104.7 295.72 L105.05 295.99 L106.8 296.74 L107.5 296.57 L108.55 296.99 L110.3 296.93 L111.35 297.55 L112.05 297.57 L112.4 297.44 L112.75 297.78 L113.45 297.92 L113.8 297.67 L114.85 297.77 L115.2 297.93 L115.55 297.81 L115.9 297.96 L116.25 297.89 L116.6 298.26 L116.95 298.22 L117.3 298.46 L117.65 298.2 L118 298.32 L118.35 298.16 L120.45 298.73 L120.8 298.72 L121.5 298.41 L122.2 298.36 L123.6 298.74 L124.3 298.43 L125 297.56 L125.35 297.39 L125.7 297.42 L127.1 298.62 L127.45 298.67 L127.8 299.09 L128.5 299.38 L129.2 299.27 L130.25 299.87 L130.95 299.88 L131.3 299.66 L132 299.84 L132.35 300.07 L133.05 300.02 L133.75 300.41 L134.8 300.12 L135.15 300.33 L135.5 300.18 L135.85 300.51 L136.2 300.42 L136.55 300.66 L137.25 300.62 L137.6 300.34 L137.95 300.32 L138.65 300.93 L139 301.02 L139.35 300.91 L140.4 301.18 L140.75 301.05 L141.45 301.31 L142.85 301.52 L143.2 301.12 L144.25 301.4 L144.6 301.17 L146 301.59 L146.7 302.03 L147.75 301.27 L148.1 301.34 L148.45 301.21 L148.8 301.32 L149.15 301.16 L150.2 301.62 L151.25 301.45 L151.6 301.19 L153 301.73 L154.05 301.37 L154.4 301.37 L155.1 301.78 L155.45 301.83 L156.5 301.42 L156.85 301.55 L157.2 301.43 L157.55 301.54 L157.9 301.4 L158.25 301.48 L159.3 301.29 L160.35 301.6 L161.05 301.93 L162.1 301.68 L162.45 301.85 L163.85 301.72 L164.9 301.28 L165.95 301.22 L166.65 301.56 L167 301.89 L167.35 301.78 L167.7 301.83 L168.05 301.55 L168.4 301.59 L169.45 300.96 L170.5 301.54 L170.85 301.48 L171.2 301.2 L172.25 301.31 L172.95 300.85 L174 301.08 L175.05 300.82 L176.1 300.22 L176.8 300.65 L177.5 300.52 L177.85 300.29 L178.55 300.27 L178.9 300.07 L179.25 300.24 L179.6 300.11 L179.95 300.18 L180.65 300.04 L181.35 299.64 L182.4 299.86 L182.75 299.64 L183.8 299.7 L184.15 299.83 L184.85 299.55 L185.2 299.15 L185.9 299.31 L186.25 299.53 L186.6 299.42 L187.3 299.54 L188.7 299.06 L189.4 299.11 L189.75 299.3 L190.8 298.72 L191.5 298.58 L191.85 298.67 L192.9 298.71 L193.6 298.63 L193.95 298.28 L194.65 298.03 L195.35 298.43 L196.4 298.14 L196.75 298.4 L197.45 298.37 L197.8 298.11 L198.5 297.92 L198.85 298.05 L199.9 297.79 L200.6 298.09 L200.95 298 L201.3 297.72 L202 297.69 L202.35 297.82 L203.75 296.96 L204.1 296.86 L204.8 297.1 L206.2 296.88 L207.25 296.54 L207.6 296.24 L208.3 296.2 L209.35 295.94 L209.7 296.05 L211.1 295.26 L211.45 295.25 L213.2 294.18 L214.25 293.42 L214.6 293.37 L214.95 293.15 L215.3 293.23 L216 292.77 L216.35 292.2 L218.1 291.09 L219.15 289.89 L219.5 289.93 L220.2 289.04 L220.55 288.2 L222.65 285.63 L223 285.39 L225.69 279.16 L230.23 260.25 L230.53 259.7 L230.88 260.25 L231.8 265.68 L233.91 357.5 L234.31 358.64 L234.66 359.03 L235.01 358.72 L239.58 334.48 L240.91 323.09 L243.29 316.59 L246.79 312.24 L248.54 310.83 L249.24 310.7 L249.94 309.99 L250.29 309.89 L250.64 309.96 L251.34 309.61 L251.69 309.14 L253.44 308.14 L253.79 308.29 L255.19 307.73 L255.89 307.1 L256.24 306.94 L256.59 307.05 L257.99 306.49 L258.34 306.48 L258.69 306.17 L260.09 305.72 L261.14 305.15 L262.19 304.99 L262.89 305.1 L263.94 304.33 L264.99 304.11 L265.34 304.27 L265.69 304.09 L266.74 304.32 L268.84 303.5 L270.59 303.65 L271.64 302.69 L271.99 302.76 L272.34 302.52 L274.09 302.14 L274.44 301.88 L275.49 301.94 L276.54 301.5 L277.24 301.33 L277.59 301.46 L277.94 301.32 L278.64 301.64 L278.99 301.58 L279.69 301.07 L280.74 301.27 L281.79 300.65 L282.49 300.35 L284.24 300.3 L284.94 299.52 L285.29 299.42 L285.99 299.89 L287.04 299.54 L288.09 299.39 L288.79 298.96 L289.49 298.86 L289.84 298.97 L290.19 298.83 L290.54 298.96 L291.24 298.77 L292.29 297.89 L292.64 298.1 L293.69 297.67 L294.04 297.82 L295.44 297.17 L295.79 297.26 L297.19 296.81 L298.24 297.12 L298.94 296.96 L299.29 296.69 L299.99 296.66 L300.34 296.46 L300.69 296.46 L301.04 296.24 L301.39 296.36 L301.74 296.26 L302.44 296.25 L304.19 295.68 L305.24 295.51 L305.59 295.2 L306.29 294.79 L306.64 294.9 L306.99 294.72 L307.69 295.09 L308.39 294.96 L308.74 294.61 L309.09 294.51 L309.44 294.2 L309.79 294.13 L310.49 294.26 L311.19 293.63 L311.54 293.48 L312.24 293.71 L313.64 293.31 L314.34 292.84 L315.04 292.79 L315.39 292.98 L316.09 292.52 L316.79 292.49 L317.14 292.62 L318.19 291.91 L318.54 291.9 L318.89 291.7 L319.94 291.59 L320.29 291.21 L321.34 290.8 L322.04 290.28 L322.74 290.23 L323.44 289.79 L323.79 289.73 L324.14 290.02 L324.49 289.74 L324.84 289.86 L325.19 289.68 L325.54 289.72 L326.24 289.25 L326.59 289.2 L326.94 288.85 L327.29 288.74 L328.34 288.08 L328.69 288.01 L329.39 288.14 L331.49 287.13 L331.84 287.16 L332.89 286.4 L333.24 286.41 L333.59 286.6 L334.29 286.57 L336.04 285.62 L336.39 285.77 L337.79 284.72 L338.14 284.7 L338.84 284.25 L339.89 284.09 L340.59 283.58 L340.94 283.56 L342.34 282.78 L343.5 282.4" stroke="#56B4E9" stroke-linecap="square"/>
<path d="M65.5 323.9 L71.8 324.68 L78.1 325.19 L84.4 325.51 L90.7 325.72 L97 325.86 L103.3 325.94 L109.6 326.01 L115.9 326.07 L122.2 326.12 L128.5 326.17 L134.8 326.21 L141.1 326.25 L147.4 326.29 L153.7 326.32 L160 326.34 L166.3 326.36 L172.6 326.37 L178.9 326.39 L185.2 326.41 L191.5 326.44 L197.8 326.48 L204.1 326.65 L210.4 327.02 L216.7 327.23 L223 327.75 L225.45 328.3 L228.6 331.17 L229.65 332.8 L231.21 338.07 L234.98 388.45 L235.13 388.94 L239.15 337.92 L241.04 331.9 L241.71 330.72 L247.31 327.69 L253.61 326.94 L259.91 326.82 L266.21 326.76 L272.51 326.72 L278.81 326.7 L285.11 326.7 L291.41 326.7 L297.71 326.7 L304.01 326.7 L310.31 326.7 L316.61 326.7 L322.91 326.7 L329.21 326.7 L335.51 326.7 L341.81 326.7 L343.5 326.7" stroke="#E69F00" stroke-dasharray="6.1 2.64" stroke-linecap="butt"/>
<path d="M65.5 269.9 L71.8 277.58 L78.1 283.86 L84.4 289.2 L90.7 292.47 L97 294.81 L103.3 296.61 L109.6 297.8 L115.9 298.73 L122.2 299.53 L128.5 300.07 L134.8 300.46 L141.1 300.79 L147.4 301.11 L153.7 301.44 L160 301.67 L166.3 301.67 L172.6 301.47 L178.9 301.14 L185.2 300.79 L191.5 300.42 L197.8 299.96 L204.1 299.37 L210.4 298.54 L216.7 297.24 L221.6 295.33 L226.15 290.48 L229.46 283.85 L233.05 267.7 L233.33 267.77 L235.57 329.48 L235.66 329.58 L241.94 314.41 L246.49 308.59 L252.79 304.81 L259.09 303.24 L265.39 301.9 L271.69 300.54 L277.99 299.1 L284.29 298.03 L290.59 296.8 L296.89 295.26 L303.19 293.64 L309.49 292 L315.79 290.25 L322.09 288.14 L328.39 285.86 L334.69 283.23 L340.99 280.43 L343.5 279.3" stroke="#CC79A7" stroke-dasharray="6.1 2.64" stroke-linecap="butt"/>
</g>
<rect x="65.5" y="250.5" width="278.0" height="207.0" fill="none" stroke="#000" stroke-width="0.88" stroke-linejoin="miter"/>
<path d="M65.5 457.5 V461.35 M121.1 457.5 V461.35 M176.7 457.5 V461.35 M232.3 457.5 V461.35 M287.9 457.5 V461.35 M343.5 457.5 V461.35 M65.5 251.17 H61.65 M65.5 288.83 H61.65 M65.5 326.5 H61.65 M65.5 364.17 H61.65 M65.5 401.83 H61.65 M65.5 439.5 H61.65" stroke="#000" stroke-width="0.88" fill="none"/>
<text transform="translate(58.81 473.5) scale(1.0476 1.040)" font-size="11.64" fill="#000">16</text>
<text transform="translate(114.44 473.5) scale(1.0433 1.040)" font-size="11.64" fill="#000">18</text>
<text transform="translate(170.15 473.5) scale(1.0462 1.040)" font-size="11.64" fill="#000">20</text>
<text transform="translate(225.93 473.5) scale(1.0254 1.040)" font-size="11.64" fill="#000">22</text>
<text transform="translate(281.27 473.5) scale(1.0456 1.040)" font-size="11.64" fill="#000">24</text>
<text transform="translate(336.92 473.5) scale(1.0549 1.040)" font-size="11.64" fill="#000">26</text>
<text transform="translate(37.24 255.35) scale(1.0535 1.040)" font-size="11.64" fill="#000">400</text>
<text transform="translate(37.11 293.01) scale(1.0599 1.040)" font-size="11.64" fill="#000">200</text>
<text transform="translate(51.25 330.68) scale(0.9910 1.040)" font-size="11.64" fill="#000">0</text>
<text transform="translate(28.28 368.35) scale(1.1230 1.040)" font-size="11.64" fill="#000">−200</text>
<text transform="translate(28.28 406.01) scale(1.1230 1.040)" font-size="11.64" fill="#000">−400</text>
<text transform="translate(28.28 443.68) scale(1.1230 1.040)" font-size="11.64" fill="#000">−600</text>
<text transform="translate(319.47 264.6) scale(1.0601 1.000)" font-size="13.97" font-style="italic" fill="#000">Z</text>
<text transform="translate(328.53 266.5) scale(1.0613 1.000)" font-size="9.78" font-style="italic" fill="#000">yx</text>
<clipPath id="c4"><rect x="399.0" y="250.5" width="277.5" height="207.0"/></clipPath>
<g clip-path="url(#c4)" fill="none" stroke-width="1.65" stroke-linejoin="round">
<path d="M399 379.78 L399.35 379.83 L399.7 379.58 L401.45 379.67 L401.8 379.79 L402.5 379.74 L403.55 379.4 L403.9 379.6 L404.6 379.66 L405.3 379.41 L406 379.54 L406.7 379.92 L407.4 379.08 L407.75 378.9 L408.45 379.56 L408.8 379.62 L409.15 380 L409.85 379.72 L410.2 379.71 L410.9 380.13 L411.6 379.4 L411.95 379.33 L412.65 379.49 L413.7 379.38 L414.75 379.64 L415.45 379.65 L416.15 379.91 L416.5 379.7 L417.2 379.55 L417.55 379.8 L417.9 379.53 L418.25 379.75 L419.3 379.4 L419.65 379.42 L420 379.65 L420.7 379.37 L421.4 379.44 L422.1 379.73 L422.45 379.55 L423.15 379.62 L423.5 379.83 L424.2 379.6 L424.9 379.94 L425.95 379.36 L426.3 379.35 L426.65 379.69 L427 379.73 L427.7 379.26 L428.05 379.37 L428.4 379.71 L428.75 379.8 L429.45 379.63 L430.15 379.93 L431.2 379.65 L431.55 379.77 L431.9 379.45 L432.25 379.47 L432.6 379.31 L433.3 379.51 L433.65 379.41 L434 379.75 L434.35 379.68 L435.4 380.01 L436.1 379.37 L437.15 379.82 L437.5 379.58 L437.85 379.56 L438.2 379.8 L438.9 379.81 L439.25 379.58 L439.6 379.64 L439.95 379.49 L440.65 379.85 L441 379.78 L441.35 379.31 L441.7 379.17 L442.05 379.78 L442.4 380 L443.1 379.43 L443.8 379.57 L444.15 379.43 L444.5 379.63 L445.2 379.74 L446.6 379.37 L446.95 379.5 L447.65 379.36 L448.7 379.89 L450.1 379.66 L450.45 379.76 L450.8 379.62 L451.15 379.68 L451.85 379.57 L452.2 379.31 L452.55 379.34 L452.9 379.74 L453.6 379.78 L453.95 379.22 L454.65 379.51 L455 379.79 L455.7 379.6 L456.75 380.2 L457.45 379.93 L457.8 379.62 L459.2 379.73 L459.55 379.47 L459.9 379.6 L460.25 379.48 L460.95 379.53 L461.65 380.07 L462 379.99 L462.35 379.66 L462.7 380.01 L463.4 380.09 L463.75 379.54 L464.45 379.36 L464.8 379.5 L465.15 379.42 L465.5 379.84 L465.85 379.96 L466.9 379.06 L467.25 379.63 L467.6 379.65 L467.95 379.97 L468.3 379.65 L469 380.12 L469.35 380.12 L470.05 379.5 L470.4 379.65 L470.75 379.41 L471.1 379.79 L471.45 379.64 L471.8 379.79 L472.15 379.59 L472.85 379.64 L473.2 379.48 L473.55 379.56 L474.6 379.43 L476 379.78 L476.7 379.74 L477.05 379.53 L477.75 379.33 L478.1 379.51 L478.45 379.42 L479.15 379.47 L479.5 379.7 L479.85 379.75 L480.2 379.4 L481.6 379.64 L481.95 379.5 L483 379.52 L483.35 379.72 L483.7 379.46 L484.05 379.76 L485.1 379.47 L485.45 379.51 L485.8 379.79 L486.15 379.64 L487.2 379.62 L487.55 379.73 L488.6 379.51 L489.3 379.74 L489.65 379.6 L490 379.63 L490.35 379.4 L491.4 379.35 L491.75 379.51 L492.1 379.49 L492.45 379.83 L493.5 379.52 L493.85 379.29 L494.2 379.85 L494.55 379.69 L494.9 379.95 L495.25 379.61 L495.6 379.71 L496.3 379.52 L497 379.85 L498.05 379.59 L499.1 379.69 L499.45 379.42 L500.15 379.33 L500.5 379.69 L500.85 379.74 L501.2 379.99 L501.9 379.88 L502.25 379.64 L503.3 380.02 L504 379.54 L505.4 379.57 L505.75 379.89 L507.15 379.85 L507.5 380.01 L508.55 379.43 L508.9 379.51 L509.6 379.47 L509.95 379.23 L510.3 379.65 L511 379.8 L511.35 379.46 L513.45 379.46 L514.15 379.93 L514.85 379.94 L515.2 379.57 L515.55 379.67 L515.9 379.59 L516.6 380.01 L516.95 379.67 L517.3 379.64 L517.65 379.23 L518 379.66 L518.35 379.43 L519.05 379.46 L519.4 379.75 L519.75 379.83 L520.45 379.51 L521.15 379.75 L521.85 379.57 L522.2 379.64 L522.55 380.02 L522.9 379.84 L523.25 379.9 L523.6 379.61 L523.95 379.75 L524.3 379.55 L524.65 379.81 L525.35 379.84 L526.05 379.59 L526.75 379.99 L527.45 379.69 L527.8 379.7 L528.15 380.2 L529.2 379.57 L530.25 379.39 L530.6 379.75 L531.3 379.83 L531.65 379.7 L532 380.03 L532.35 379.95 L532.7 380.08 L533.05 379.71 L533.75 379.52 L534.1 379.83 L534.45 379.94 L535.5 379.81 L535.85 379.9 L536.9 379.38 L538.3 379.72 L538.65 379.48 L539 379.52 L539.35 379.34 L539.7 379.84 L540.05 379.69 L540.4 379.84 L540.75 379.68 L541.1 379.98 L541.45 380.07 L542.15 379.37 L542.85 379.26 L543.2 379.55 L543.55 379.25 L544.25 379.75 L544.95 379.77 L545.3 379.65 L545.65 379.72 L546.35 379.52 L547.75 379.66 L548.1 379.5 L548.45 379.58 L548.8 379.47 L549.15 379.77 L549.5 379.62 L549.85 379.79 L550.2 379.57 L550.55 379.58 L550.9 379.18 L551.95 379.1 L552.65 378.65 L553 378.67 L554.05 379.36 L555.1 378.6 L555.45 378.57 L555.8 378.83 L556.15 378.83 L557.9 376.98 L558.25 376.83 L558.6 376.93 L560 375.71 L560.35 375.24 L561.01 373.54 L562.33 367.25 L566.5 259.93 L570.3 358.49 L571.8 365.79 L573.11 369.57 L573.39 369.94 L574.34 372.11 L575.74 374.73 L576.09 374.99 L577.14 375.17 L578.19 376.6 L578.89 376.58 L580.29 377 L580.64 377.22 L582.04 377.34 L582.74 377.71 L583.09 378.14 L583.79 377.69 L584.14 377.63 L584.84 378.17 L585.19 377.85 L585.89 377.63 L586.24 377.85 L586.59 377.57 L586.94 377.83 L587.29 377.61 L588.69 378.73 L589.04 378.44 L589.39 378.38 L589.74 378.07 L590.44 378.5 L590.79 379 L591.14 378.69 L591.49 378.69 L591.84 378.47 L592.54 379.21 L592.89 379.12 L593.59 378.24 L594.64 378.9 L595.69 378.21 L596.04 378.37 L596.74 379.12 L597.09 378.84 L597.44 378.88 L597.79 379.14 L598.49 379.04 L598.84 378.71 L599.19 378.96 L599.89 379.01 L600.24 378.83 L600.94 378.76 L601.64 378.87 L601.99 379.06 L604.79 379.2 L605.49 378.88 L606.19 379.11 L606.54 379.39 L607.59 378.72 L607.94 378.92 L608.64 378.86 L608.99 379.1 L609.34 379.07 L609.69 379.37 L610.04 379.27 L610.74 379.55 L611.44 379.04 L611.79 378.54 L612.49 378.8 L613.19 379.53 L614.24 379.1 L614.94 379.55 L615.29 379.48 L615.64 379.86 L615.99 379.62 L616.34 379.62 L616.69 379.15 L617.39 379.41 L617.74 379.22 L618.09 379.33 L618.44 379.26 L618.79 379.59 L619.14 379.58 L620.19 378.65 L621.24 379.23 L621.59 379.08 L622.29 379.31 L623.34 378.97 L623.69 379.15 L624.04 379.15 L625.09 379.76 L625.44 379.38 L625.79 379.52 L626.49 379.48 L626.84 379.1 L627.19 378.97 L627.54 379.38 L628.24 379.55 L628.59 378.91 L628.94 378.99 L629.29 378.82 L629.64 378.98 L630.34 378.99 L630.69 379.29 L631.04 379.37 L631.74 379.08 L632.09 378.68 L632.79 379.1 L633.14 379.13 L633.49 379.42 L633.84 379.23 L634.19 379.26 L634.54 378.97 L634.89 379.14 L635.59 379.13 L635.94 378.81 L636.29 379.2 L637.34 379.34 L637.69 379.13 L638.74 379.43 L639.09 379.69 L640.14 379.12 L641.19 379.06 L641.89 378.78 L642.59 379.1 L642.94 379.43 L643.29 379.14 L643.64 379.21 L643.99 379.09 L644.34 379.15 L644.69 379.05 L645.74 379.56 L646.44 379.64 L646.79 379.52 L647.49 378.82 L647.84 378.88 L648.54 379.34 L649.59 379.67 L649.94 379.41 L650.29 379.54 L650.64 379.19 L651.69 379.15 L652.04 379.39 L652.39 379.13 L652.74 379.23 L653.09 378.97 L653.44 379.11 L654.14 379.01 L654.49 379.15 L655.54 379.07 L656.24 379.66 L656.59 379.57 L656.94 379.77 L657.64 379.33 L657.99 378.84 L659.04 379.63 L659.74 379.56 L660.44 378.98 L661.49 379.85 L661.84 379.47 L662.54 379.15 L662.89 379.16 L663.24 378.83 L663.94 378.86 L664.29 379.26 L664.99 379.49 L665.69 379.53 L666.04 379.02 L666.39 378.86 L667.44 379.32 L667.79 379.17 L668.49 379.37 L669.54 378.59 L669.89 378.56 L670.94 379.29 L671.29 379.14 L671.64 379.57 L671.99 379.5 L672.34 379.65 L672.69 379.34 L673.74 379.18 L674.79 379.67 L675.49 379.23 L676.5 379.56" stroke="#0072B2" stroke-linecap="square"/>
<path d="M399 379.77 L399.35 379.73 L399.7 379.46 L400.75 380.06 L402.85 379.84 L403.2 379.67 L404.25 379.91 L405.3 379.69 L406.35 379.97 L407.05 379.81 L407.75 380.03 L408.1 379.97 L408.8 379.37 L409.85 380.08 L411.25 379.93 L411.6 380 L412.65 379.78 L413 380.08 L413.7 379.93 L414.05 379.7 L415.1 380.16 L415.45 379.89 L415.8 380.03 L417.2 379.99 L418.6 380.39 L419.3 379.97 L420.35 380.09 L421.4 380.04 L422.1 379.61 L422.8 380.01 L423.15 380.41 L425.25 379.97 L426.3 380.47 L427 380.18 L428.05 380.27 L428.75 380.11 L430.15 380.5 L430.5 380.33 L430.85 380.44 L431.2 380.23 L434 380.18 L435.4 380.89 L436.8 380.58 L437.15 380.73 L437.5 380.46 L437.85 380.61 L438.2 380.33 L438.55 380.53 L440.3 380.91 L441 380.61 L441.35 380.6 L442.05 380.85 L443.8 380.53 L444.85 381.01 L445.55 380.95 L445.9 380.78 L446.25 381.08 L446.95 381.14 L447.3 380.85 L448.35 380.84 L448.7 380.97 L449.05 380.81 L449.4 380.92 L449.75 380.81 L450.1 381.15 L450.45 381.07 L450.8 381.28 L451.15 380.99 L451.5 381.07 L451.85 380.89 L454.3 381.32 L455 381.01 L455.7 380.96 L457.8 381.58 L458.5 381.39 L459.9 381.59 L460.95 381.29 L461.3 381.62 L462 381.75 L462.7 381.53 L463.75 381.99 L464.45 381.94 L464.8 381.68 L465.5 381.82 L465.85 382.03 L466.55 381.94 L467.25 382.3 L468.3 381.94 L468.65 382.12 L469 381.94 L469.35 382.24 L469.7 382.13 L470.05 382.34 L470.75 382.24 L471.1 381.93 L471.45 381.89 L472.15 382.45 L472.5 382.51 L472.85 382.38 L473.9 382.59 L474.25 382.44 L474.95 382.68 L476.35 382.87 L476.7 382.47 L477.75 382.77 L478.1 382.55 L479.5 383 L480.2 383.46 L481.25 382.73 L481.6 382.81 L481.95 382.7 L482.3 382.82 L482.65 382.68 L484.05 383.24 L484.75 383.06 L485.1 382.82 L486.5 383.43 L487.55 383.13 L487.9 383.15 L488.6 383.59 L488.95 383.66 L490 383.31 L490.35 383.45 L490.7 383.35 L491.05 383.48 L491.4 383.36 L491.75 383.46 L492.8 383.33 L493.85 383.69 L494.55 384.07 L495.6 383.87 L495.95 384.06 L497.35 384.02 L498.4 383.66 L499.45 383.72 L500.15 384.14 L500.5 384.51 L500.85 384.44 L501.2 384.54 L501.55 384.31 L501.9 384.39 L502.95 383.91 L504 384.63 L504.35 384.62 L504.7 384.39 L505.75 384.65 L506.45 384.29 L507.5 384.66 L508.55 384.57 L509.6 384.15 L510.3 384.7 L511 384.7 L511.35 384.53 L512.05 384.64 L512.4 384.51 L512.75 384.74 L513.1 384.68 L513.45 384.81 L514.15 384.81 L514.85 384.54 L515.9 384.96 L516.25 384.79 L517.3 385.04 L517.65 385.23 L518.35 385.08 L518.7 384.75 L519.4 385.03 L519.75 385.31 L520.1 385.27 L520.8 385.51 L522.2 385.31 L522.9 385.51 L523.25 385.76 L524.3 385.42 L525 385.44 L525.35 385.61 L526.4 385.89 L527.1 385.97 L527.45 385.7 L528.15 385.61 L528.85 386.17 L529.9 386.13 L530.25 386.47 L530.95 386.6 L531.3 386.43 L532 386.43 L532.35 386.65 L533.4 386.68 L534.1 387.2 L534.45 387.24 L534.8 387.09 L535.5 387.33 L535.85 387.61 L537.25 387.35 L537.6 387.41 L538.3 387.96 L539.7 388.39 L540.75 388.57 L541.1 388.46 L542.85 389.24 L543.2 389.59 L544.6 390.05 L544.95 390.41 L546 390.91 L546.7 391.36 L547.4 391.65 L548.45 392.58 L548.8 393.13 L549.5 393.64 L549.85 393.57 L550.9 394.5 L552.3 395.81 L552.65 395.97 L553 396.71 L553.7 397.3 L554.05 397.26 L556.15 400.34 L557.2 402.28 L558.54 404.82 L561.3 415.29 L564.85 448.1 L567.78 306.2 L570.97 348.95 L574.72 363.09 L575.72 364.47 L577.47 367.63 L578.17 368.39 L578.52 368.58 L579.57 369.84 L581.32 370.83 L581.67 371.24 L582.02 371.37 L582.72 372.19 L583.07 372.36 L583.77 372.3 L584.82 373.15 L585.87 373.16 L586.57 373.27 L588.32 374.13 L589.02 373.66 L589.37 373.71 L590.07 374.48 L591.12 374.58 L592.17 374.91 L592.87 374.82 L593.57 375.07 L593.92 375.36 L594.27 375.41 L594.62 375.73 L595.32 375.92 L596.37 375.62 L596.72 376.02 L597.42 376.17 L597.77 376.13 L598.12 376.45 L599.52 376.44 L599.87 376.68 L600.22 376.65 L601.27 376.79 L602.32 377.49 L603.02 377.58 L603.37 377.44 L604.07 377.66 L604.42 377.59 L604.77 377.72 L605.12 377.62 L605.47 377.88 L605.82 377.9 L606.52 378.17 L608.27 378.28 L609.32 378.53 L609.67 378.36 L610.02 378.38 L610.37 378.22 L610.72 378.46 L611.07 378.41 L611.77 379.03 L612.47 379.16 L612.82 378.93 L613.17 378.95 L613.52 378.77 L613.87 378.82 L614.57 379.19 L615.27 378.8 L615.62 378.78 L616.32 379.25 L617.72 379.32 L618.42 379.07 L619.12 379.24 L619.47 379.54 L620.17 379.31 L620.87 379.51 L621.22 379.76 L621.57 379.6 L621.92 379.62 L622.27 379.44 L622.62 379.59 L622.97 379.55 L624.02 379.95 L624.37 379.74 L625.42 379.87 L626.12 379.71 L626.82 379.97 L627.52 379.84 L627.87 379.94 L628.22 380.37 L628.57 380.25 L628.92 380.51 L629.27 380.48 L629.62 380.67 L630.32 380.48 L630.67 380.58 L631.02 380.37 L631.37 380.4 L632.42 380.18 L632.77 380.24 L633.47 380.67 L634.52 380.66 L634.87 380.54 L635.57 380.6 L635.92 380.8 L636.62 380.53 L637.32 380.71 L638.37 381.39 L639.42 381.22 L640.12 381.28 L640.47 381.6 L640.82 381.59 L641.87 381.23 L642.22 381.38 L642.92 381.26 L643.97 381.61 L644.67 381.43 L645.02 381.59 L646.42 381.49 L647.82 381.73 L648.17 382.08 L648.52 382.2 L649.22 381.63 L649.57 381.53 L650.27 382.12 L650.62 382.26 L651.32 381.92 L651.67 381.89 L652.37 382.32 L652.72 382.22 L653.07 382.32 L653.42 382.04 L653.77 382.18 L654.12 382.14 L654.47 382.56 L655.52 382.19 L655.87 382.22 L656.22 382.57 L657.27 382.46 L657.97 382.78 L658.32 382.54 L658.67 382.72 L659.02 382.59 L659.37 382.84 L660.42 382.45 L660.77 382.6 L661.12 382.94 L661.82 383.11 L662.17 383.04 L662.52 383.34 L662.87 383.22 L663.22 383.3 L663.57 383.01 L663.92 383.14 L664.27 382.99 L664.62 383.15 L665.67 382.86 L666.02 382.9 L667.42 383.37 L667.77 383.24 L668.47 383.29 L668.82 383.57 L669.52 383.54 L669.87 383.29 L670.22 383.44 L670.92 383.46 L671.97 383.31 L672.67 383.77 L673.72 383.81 L674.07 384.13 L675.12 383.78 L676.5 384" stroke="#56B4E9" stroke-linecap="square"/>
<path d="M399 379.6 L405.3 379.6 L411.6 379.6 L417.9 379.6 L424.2 379.6 L430.5 379.6 L436.8 379.6 L443.1 379.6 L449.4 379.6 L455.7 379.6 L462 379.6 L468.3 379.6 L474.6 379.6 L480.9 379.6 L487.2 379.6 L493.5 379.6 L499.8 379.6 L506.1 379.6 L512.4 379.6 L518.7 379.6 L525 379.6 L531.3 379.6 L537.6 379.6 L543.9 379.59 L550.2 379.49 L556.5 378.15 L560.35 375.75 L562.1 373.39 L563.48 369.68 L568.38 273.46 L571.4 360.65 L573.08 369.53 L574.57 372.59 L577.02 375.59 L583.32 378.31 L589.62 378.89 L595.92 379.06 L602.22 379.11 L608.52 379.15 L614.82 379.18 L621.12 379.2 L627.42 379.23 L633.72 379.24 L640.02 379.26 L646.32 379.27 L652.62 379.28 L658.92 379.29 L665.22 379.3 L671.52 379.3 L676.5 379.3" stroke="#E69F00" stroke-dasharray="6.1 2.64" stroke-linecap="butt"/>
<path d="M399 379.8 L405.3 380.02 L411.6 380.25 L417.9 380.49 L424.2 380.73 L430.5 380.97 L436.8 381.22 L443.1 381.47 L449.4 381.73 L455.7 381.99 L462 382.26 L468.3 382.53 L474.6 382.79 L480.9 383.05 L487.2 383.3 L493.5 383.56 L499.8 383.84 L506.1 384.14 L512.4 384.47 L518.7 384.84 L525 385.32 L531.3 385.92 L537.6 386.83 L543.9 388.75 L550.2 391.56 L556.5 396.71 L559.65 400.98 L564.43 416.64 L566.68 436.18 L569.95 327.57 L570.19 328.02 L573.87 352.47 L577.29 362.78 L581.82 369.62 L588.12 373.5 L594.42 375.4 L600.72 376.72 L607.02 377.72 L613.32 378.55 L619.62 379.25 L625.92 379.89 L632.22 380.49 L638.52 381.04 L644.82 381.55 L651.12 381.99 L657.42 382.41 L663.72 382.89 L670.02 383.42 L676.32 383.98 L676.5 384" stroke="#CC79A7" stroke-dasharray="6.1 2.64" stroke-linecap="butt"/>
</g>
<rect x="399.0" y="250.5" width="277.5" height="207.0" fill="none" stroke="#000" stroke-width="0.88" stroke-linejoin="miter"/>
<path d="M399 457.5 V461.35 M454.5 457.5 V461.35 M510 457.5 V461.35 M565.5 457.5 V461.35 M621 457.5 V461.35 M676.5 457.5 V461.35 M399 258.46 H395.15 M399 288.8 H395.15 M399 319.13 H395.15 M399 349.47 H395.15 M399 379.8 H395.15 M399 410.13 H395.15 M399 440.47 H395.15" stroke="#000" stroke-width="0.88" fill="none"/>
<text transform="translate(392.31 473.5) scale(1.0476 1.040)" font-size="11.64" fill="#000">16</text>
<text transform="translate(447.84 473.5) scale(1.0433 1.040)" font-size="11.64" fill="#000">18</text>
<text transform="translate(503.45 473.5) scale(1.0462 1.040)" font-size="11.64" fill="#000">20</text>
<text transform="translate(559.13 473.5) scale(1.0254 1.040)" font-size="11.64" fill="#000">22</text>
<text transform="translate(614.37 473.5) scale(1.0456 1.040)" font-size="11.64" fill="#000">24</text>
<text transform="translate(669.92 473.5) scale(1.0549 1.040)" font-size="11.64" fill="#000">26</text>
<text transform="translate(363.67 262.64) scale(1.0621 1.040)" font-size="11.64" fill="#000">8000</text>
<text transform="translate(363.56 292.98) scale(1.0664 1.040)" font-size="11.64" fill="#000">6000</text>
<text transform="translate(363.74 323.31) scale(1.0595 1.040)" font-size="11.64" fill="#000">4000</text>
<text transform="translate(363.61 353.65) scale(1.0644 1.040)" font-size="11.64" fill="#000">2000</text>
<text transform="translate(384.75 383.98) scale(0.9910 1.040)" font-size="11.64" fill="#000">0</text>
<text transform="translate(354.79 414.31) scale(1.1136 1.040)" font-size="11.64" fill="#000">−2000</text>
<text transform="translate(354.79 444.65) scale(1.1136 1.040)" font-size="11.64" fill="#000">−4000</text>
<text transform="translate(652.47 264.6) scale(1.0601 1.000)" font-size="13.97" font-style="italic" fill="#000">Z</text>
<text transform="translate(661.52 266.5) scale(1.0369 1.000)" font-size="9.78" font-style="italic" fill="#000">yy</text>
<rect x="404.3" y="256.3" width="145.9" height="67.5" rx="2" ry="2" fill="#fff" fill-opacity="0.8" stroke="#d6d6d6" stroke-width="0.88"/>
<path d="M408.7 265.3 H430.8" stroke="#0072B2" stroke-width="1.65" fill="none" stroke-linecap="square"/>
<text transform="translate(439.1 268.8) scale(1.0554 1.000)" font-size="11.64" fill="#000">Re(Z) Experimental</text>
<path d="M408.7 281.4 H430.8" stroke="#56B4E9" stroke-width="1.65" fill="none" stroke-linecap="square"/>
<text transform="translate(438.91 284.9) scale(1.0787 1.000)" font-size="11.64" fill="#000">Im(Z) Experimental</text>
<path d="M408.7 297.5 H430.8" stroke="#E69F00" stroke-width="1.65" fill="none" stroke-dasharray="6.1 2.64" stroke-linecap="butt"/>
<text transform="translate(439.13 301) scale(1.0222 1.000)" font-size="11.64" fill="#000">Re(Z) Model</text>
<path d="M408.7 313.6 H430.8" stroke="#CC79A7" stroke-width="1.65" fill="none" stroke-dasharray="6.1 2.64" stroke-linecap="butt"/>
<text transform="translate(438.94 317.1) scale(1.0583 1.000)" font-size="11.64" fill="#000">Im(Z) Model</text>
<text transform="translate(309.52 503.9) scale(1.0274 1.000)" font-size="13.97" fill="#000">Frequency, GHz</text>
<g transform="translate(12.1 232.25) rotate(-90)"><text transform="translate(-13.69 0) scale(1.0312 1.000)" font-size="13.97" fill="#000">Z, Ω</text></g>
</svg></body></html>
